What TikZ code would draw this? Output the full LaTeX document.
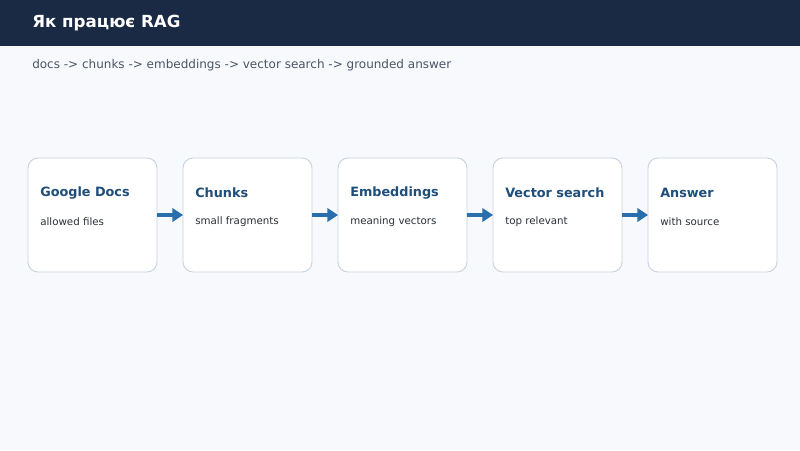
\documentclass[tikz,border=0pt]{standalone}
\usepackage{fontspec}
\setmainfont{DejaVu Sans}
\usetikzlibrary{arrows.meta}
\definecolor{hdr}{HTML}{1A2A45}
\definecolor{bg}{HTML}{F7F9FC}
\definecolor{bd}{HTML}{C9D3E0}
\definecolor{ttl}{HTML}{1F4E7A}
\definecolor{arr}{HTML}{2A6FAD}
\definecolor{sub}{HTML}{4A5566}
\definecolor{txt}{HTML}{2A2F38}
\tikzset{x=0.75pt,y=-0.75pt,
 card/.style={draw=bd,line width=0.7pt,fill=white,rounded corners=7.5pt},
 ctitle/.style={anchor=west,inner sep=0,text=ttl,font=\fontsize{9.6}{12}\selectfont\bfseries},
 ctext/.style={anchor=west,inner sep=0,text=txt,font=\fontsize{7.7}{9}\selectfont},
 flow/.style={draw=arr,line width=2.6pt,-{Triangle[length=8pt,width=10pt]}}}
\begin{document}
\begin{tikzpicture}
\useasboundingbox (0,0) rectangle (800,450);
\fill[bg] (0,0) rectangle (800,450);
\fill[hdr] (0,0) rectangle (800,46);
\node[anchor=west,inner sep=0,text=white,font=\fontsize{12.5}{15}\selectfont\bfseries] (title) at (32,23.5) {Як працює RAG};
\node[anchor=west,inner sep=0,text=sub,font=\fontsize{9}{11}\selectfont] (subtitle) at (32,65) {docs -> chunks -> embeddings -> vector search -> grounded answer};
\foreach \i/\x/\t/\s in {1/28/Google Docs/allowed files,2/183/Chunks/small fragments,3/338/Embeddings/meaning vectors,4/493/Vector search/top relevant,5/648/Answer/with source}{
 \draw[card] (\x,158) rectangle (\x+129,272);
 \coordinate (L\i) at (\x,215);
 \coordinate (R\i) at (\x+129,215);
 \node[ctitle] (t\i) at (\x+12,193) {\t};
 \node[ctext] (s\i) at (\x+12,222) {\s};
}
\foreach \a/\b in {1/2,2/3,3/4,4/5}{\draw[flow] (R\a) -- (L\b);}
\end{tikzpicture}
\end{document}
